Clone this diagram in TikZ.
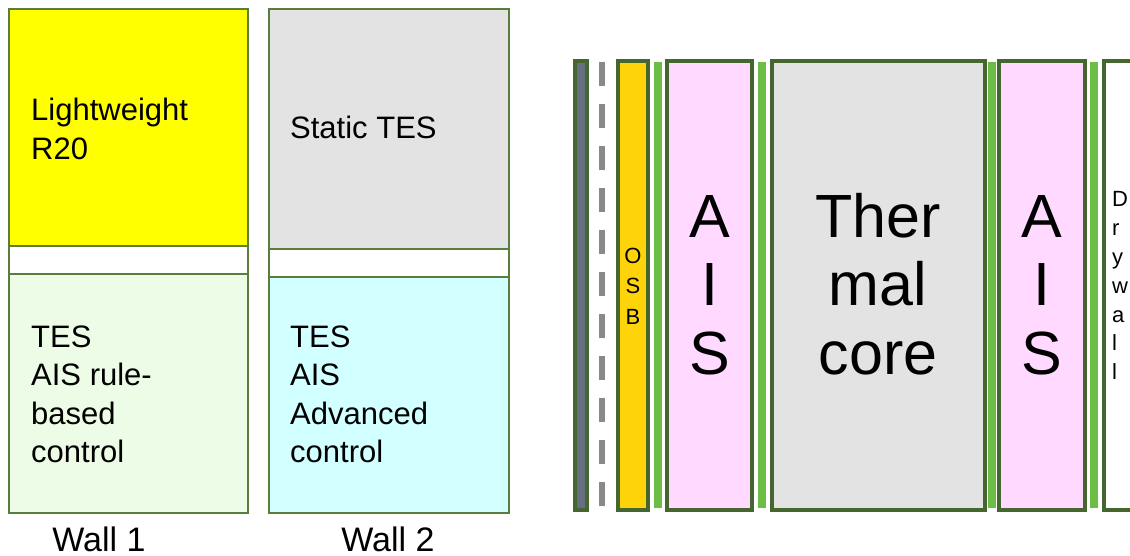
\documentclass[tikz,border=0pt]{standalone}
\usepackage{fontspec}
\setmainfont{Liberation Sans}
\begin{document}
\begin{tikzpicture}[x=1pt,y=-1pt,
  lbox/.style={draw=leftgreen,line width=2pt},
  rbox/.style={draw=rightgreen,line width=3.5pt},
  strip/.style={fill=stripgreen,draw=none},
  txt/.style={inner sep=0pt,anchor=base west},
  ctxt/.style={inner sep=0pt,anchor=base},
]
\definecolor{leftgreen}{HTML}{587D3D}
\definecolor{rightgreen}{HTML}{45662F}
\definecolor{stripgreen}{HTML}{6CBD45}
\definecolor{slate}{HTML}{677083}
\definecolor{osb}{HTML}{FFD30A}
\definecolor{pinkais}{HTML}{FFD9FF}
\definecolor{coregray}{HTML}{E3E3E3}
\definecolor{lgreen}{HTML}{EDFCE6}
\definecolor{lcyan}{HTML}{D2FFFF}
\definecolor{dashgray}{HTML}{898989}
\definecolor{pureyellow}{RGB}{255,255,0}
\useasboundingbox (0,0) rectangle (1130,556);
% Wall 1
\draw[lbox,fill=pureyellow] (9,9) rectangle (248,246);
\draw[lbox,fill=white] (9,246) rectangle (248,274);
\draw[lbox,fill=lgreen] (9,274) rectangle (248,513);
% Wall 2
\draw[lbox,fill=coregray] (269,9) rectangle (509,249);
\draw[lbox,fill=white] (269,249) rectangle (509,277);
\draw[lbox,fill=lcyan] (269,277) rectangle (509,513);
\node[txt] (t1) at (31,121) {\fontsize{31}{38.5}\selectfont\begin{tabular}[t]{@{}l@{}}Lightweight\\R20\end{tabular}};
\node[txt] (t2) at (290,139) {\fontsize{31}{38.5}\selectfont Static TES};
\node[txt] (t3) at (31,347) {\fontsize{31}{38.5}\selectfont\begin{tabular}[t]{@{}l@{}}TES\\AIS rule-\\based\\control\end{tabular}};
\node[txt] (t4) at (290,347) {\fontsize{31}{38.5}\selectfont\begin{tabular}[t]{@{}l@{}}TES\\AIS\\Advanced\\control\end{tabular}};
\node[ctxt] (w1) at (99,551) {\fontsize{34}{40}\selectfont Wall 1};
\node[ctxt] (w2) at (388,551) {\fontsize{34}{40}\selectfont Wall 2};
% Right cross-section
\draw[rbox,fill=slate] (575,61) rectangle (587,510);
\draw[dashgray,line width=6pt,dash pattern=on 24pt off 18pt] (602,62) -- (602,506);
\draw[rbox,fill=osb] (618,61) rectangle (648,510);
\fill[strip] (654,62) rectangle (662,508);
\draw[rbox,fill=pinkais] (667,61) rectangle (752,510);
\fill[strip] (758,62) rectangle (766,508);
\draw[rbox,fill=coregray] (772,61) rectangle (985,510);
\fill[strip] (988,62) rectangle (996,508);
\draw[rbox,fill=pinkais] (999,61) rectangle (1085,510);
\fill[strip] (1090,62) rectangle (1098,508);
\draw[rbox,fill=white] (1104,61) rectangle (1140,510);
\node[ctxt] (osbt) at (633,263) {\fontsize{22}{31}\selectfont\begin{tabular}[t]{@{}c@{}}O\\S\\B\end{tabular}};
\node[ctxt] (ais1) at (710,237) {\fontsize{61}{69}\selectfont\begin{tabular}[t]{@{}c@{}}A\\I\\S\end{tabular}};
\node[ctxt] (core) at (878,237) {\fontsize{61}{69}\selectfont\begin{tabular}[t]{@{}c@{}}Ther\\mal\\core\end{tabular}};
\node[ctxt] (ais2) at (1042,237) {\fontsize{61}{69}\selectfont\begin{tabular}[t]{@{}c@{}}A\\I\\S\end{tabular}};
\node[txt] (dry) at (1112,207) {\fontsize{22}{28.8}\selectfont\begin{tabular}[t]{@{}l@{}}D\\r\\y\\w\\a\\l\\l\end{tabular}};
\end{tikzpicture}
\end{document}
